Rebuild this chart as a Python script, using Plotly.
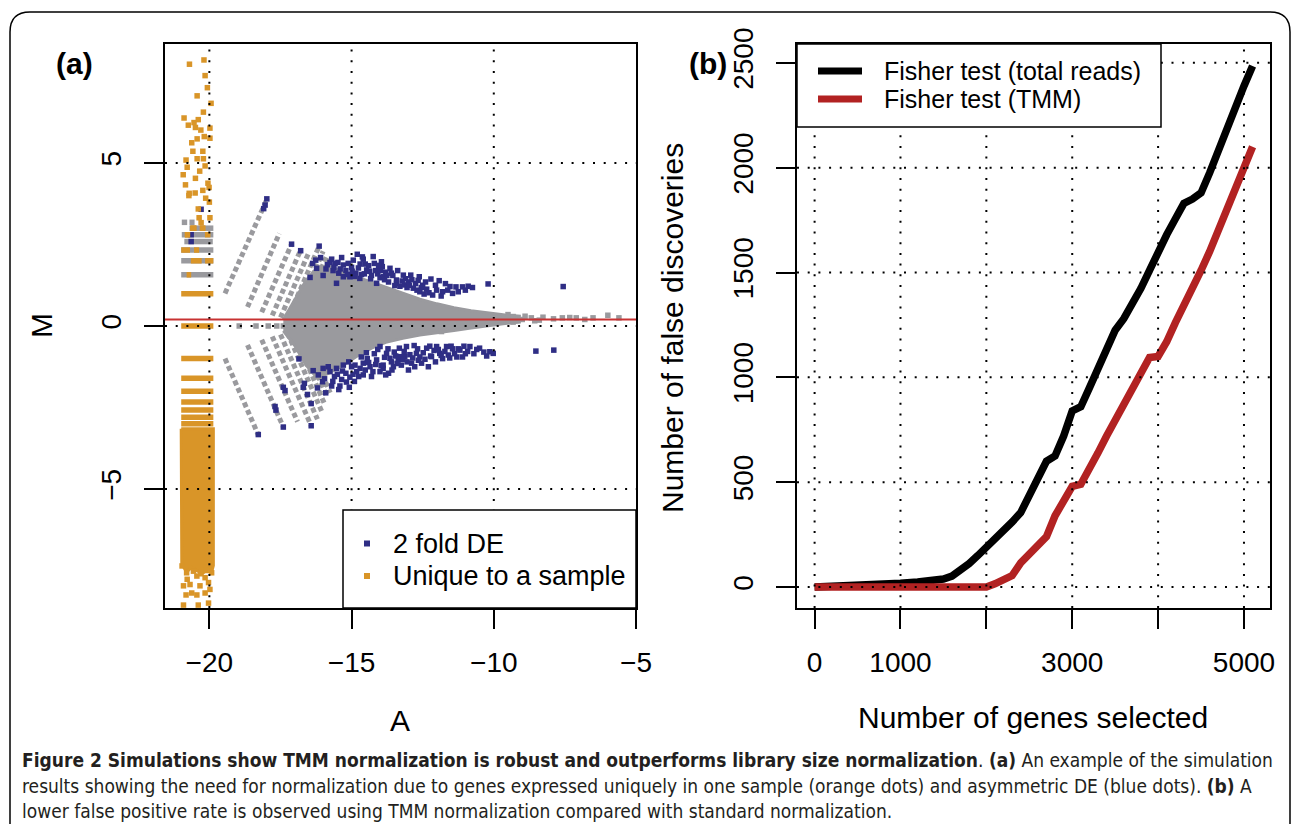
import plotly.graph_objects as go

W, H = 1293, 824

# ---------------- Panel (a): MA plot data ----------------
# gray stripes (discrete-count lines) in the upper fan: start/end (A, M)
up_stripe_A0 = [-19.45, -18.66, -18.16, -17.79, -17.50, -17.25, -17.05, -16.86, -16.70, -16.55]
up_stripe_M0 = [1.00, 0.58, 0.42, 0.32, 0.26, 0.22, 0.19, 0.17, 0.15, 0.14]
up_stripe_A1 = [-17.96, -17.54, -17.11, -16.79, -16.49, -16.14, -16.00, -15.85, -15.75, -15.70]
up_stripe_M1 = [3.92, 2.84, 2.51, 2.33, 2.28, 2.45, 2.29, 2.19, 2.05, 1.84]
# gray stripes in the lower fan
lo_stripe_A0 = [-19.45, -18.66, -18.16, -17.79, -17.50, -17.25, -17.05, -16.86, -16.70]
lo_stripe_M0 = [-1.00, -0.58, -0.42, -0.32, -0.26, -0.22, -0.19, -0.17, -0.15]
lo_stripe_A1 = [-18.28, -17.40, -16.90, -16.42, -16.20, -16.05, -15.95, -15.85, -15.75]
lo_stripe_M1 = [-3.34, -3.10, -2.94, -3.06, -2.86, -2.62, -2.39, -2.19, -2.05]

# dense gray core outline (A, M)
core_A = [-17.4, -17.0, -16.6, -16.2, -15.8, -15.3, -14.8, -14.3, -13.8, -13.2, -12.6, -12.0,
          -11.4, -10.8, -10.2, -9.6, -9.1, -9.1, -9.6, -10.2, -10.8, -11.4, -12.0, -12.6,
          -13.2, -13.8, -14.3, -14.8, -15.3, -15.8, -16.2, -16.6, -17.0, -17.4]
core_M = [0.20, 0.80, 1.40, 1.80, 1.85, 1.65, 1.50, 1.35, 1.20, 1.00, 0.82, 0.68,
          0.56, 0.47, 0.40, 0.34, 0.30, 0.12, 0.08, 0.02, -0.06, -0.14, -0.20, -0.28,
          -0.38, -0.50, -0.68, -0.92, -1.20, -1.45, -1.60, -1.20, -0.60, -0.15]

# sparse gray points
gray_A = [-18.95, -18.36, -17.93, -17.63, -17.40, -9.32, -8.68, -8.27, -7.59, -7.33, -7.10,
          -6.80, -6.51, -5.99, -5.60, -8.56, -9.32, -9.00, -8.90, -8.40, -7.90, -9.50, -11.84]
gray_M = [0.00, 0.00, 0.00, 0.00, 0.00, 0.29, 0.25, 0.27, 0.25, 0.26, 0.25,
          0.20, 0.25, 0.33, 0.25, 0.16, 0.12, 0.20, 0.30, 0.18, 0.22, 0.35, -0.17]

# gray runs at the low-A edge (M, A from, A to)
gray_bar_M = [3.18, 3.18, 3.00, 2.80, 2.59, 2.33, 2.00, 1.57]
gray_bar_A0 = [-20.97, -20.70, -20.70, -20.97, -20.88, -20.99, -20.99, -20.99]
gray_bar_A1 = [-20.78, -20.52, -19.86, -19.86, -19.88, -19.86, -19.86, -19.86]

# orange runs (genes unique to a sample)
orange_bar_M = [3.00, 3.00, 2.80, 2.33, 2.33, 2.00, 2.00, 1.57,
                0.99, 0.00, -1.00, -1.60, -2.00, -2.33, -2.58, -2.80, -3.00]
orange_bar_A0 = [-20.68, -20.34, -20.86, -20.99, -20.54, -20.65, -20.15, -20.80,
                 -20.99, -20.99, -20.99, -20.99, -20.99, -20.99, -20.99, -20.99, -20.99]
orange_bar_A1 = [-20.45, -20.17, -20.70, -20.68, -20.36, -20.27, -19.86, -20.64,
                 -19.86, -19.86, -19.86, -19.86, -19.86, -19.86, -19.86, -19.86, -19.86]

# dense orange column outline
orange_col_A = [-20.99, -19.86, -19.86, -19.92, -20.05, -20.25, -20.45, -20.62, -20.80, -20.97, -20.99]
orange_col_M = [-3.15, -3.15, -7.35, -7.55, -7.45, -7.60, -7.50, -7.40, -7.55, -7.30, -3.15]

orange_A = [-20.70, -20.19, -20.15, -20.07, -20.43, -19.94, -20.21, -20.89, -20.39, -20.54,
            -20.74, -20.49, -20.30, -19.98, -20.18, -19.98, -20.43, -20.62, -20.58, -20.23,
            -20.82, -20.43, -20.21, -20.78, -20.15, -20.34, -20.92, -20.49, -20.05, -20.84,
            -20.01, -20.23, -20.71, -20.50, -20.72, -20.13, -20.00, -20.39, -19.98, -20.36,
            -20.29, -20.56, -20.23, -20.77, -20.06,
            -20.91, -20.39, -20.03, -20.82, -20.62, -20.44, -20.15, -19.98, -20.91, -20.68,
            -20.33, -20.03, -20.78, -20.44, -20.15, -20.80, -20.56, -19.92, -20.96, -20.30, -20.10]
orange_M = [8.03, 8.16, 7.68, 7.31, 7.06, 6.83, 6.56, 6.38, 6.33, 6.24,
            6.16, 6.09, 6.01, 6.07, 5.81, 5.76, 5.74, 5.62, 5.36, 5.36,
            5.09, 5.13, 5.13, 4.87, 4.91, 4.75, 4.64, 4.53, 4.38, 4.33,
            4.25, 4.16, 4.07, 4.08, 4.00, 3.92, 3.80, 3.59, 3.32, 3.32,
            3.17, 3.00, 3.00, 2.80, 2.80,
            -8.56, -8.56, -8.50, -8.25, -8.19, -8.25, -8.19, -8.08, -7.97, -7.93,
            -7.97, -7.87, -7.77, -7.67, -7.72, -7.57, -7.52, -7.57, -7.36, -7.60, -7.50]

# 2 fold DE genes (blue), up-regulated group
blue_up_A = [-17.98, -18.04, -18.09, -17.11, -16.79, -16.14, -16.09, -16.37, -16.26, -16.46, -16.23, -16.00,
             -15.90, -15.76, -15.70, -15.65, -15.58, -15.53, -15.45, -15.35, -15.29, -15.29, -15.20, -15.06,
             -15.00, -14.94, -14.85, -14.80, -14.71, -14.70, -14.59, -14.55, -14.47, -14.40, -14.30, -14.24,
             -14.15, -14.12, -14.00, -13.95, -13.92, -13.89, -13.80, -13.70, -13.65, -13.55, -13.42, -13.42,
             -13.30, -13.18, -13.13, -13.00, -12.92, -12.83, -12.75, -12.62, -12.60, -12.50, -12.45, -12.36,
             -12.21, -12.15, -12.01, -11.92, -11.80, -11.54, -11.33, -11.10, -10.75, -10.20, -7.56,
             -20.64, -20.64, -20.29,
             -15.85, -15.62, -15.48, -15.40, -15.15, -15.12, -14.98, -14.90, -14.76, -14.65, -14.62, -14.52,
             -14.36, -14.33, -14.20, -14.08, -14.05, -13.98, -13.84, -13.76, -13.60, -13.48, -13.38, -13.22,
             -13.10, -13.05, -12.97, -12.88, -12.70, -12.66, -12.55, -12.40, -12.28, -12.05, -11.85, -11.70,
             -11.62, -11.45, -11.25, -11.00, -10.90]
blue_up_M = [3.90, 3.71, 3.60, 2.51, 2.31, 2.45, 2.10, 1.92, 2.02, 1.49, 1.77, 1.55,
             1.75, 1.95, 2.05, 1.70, 1.92, 1.31, 1.62, 2.10, 1.87, 1.51, 1.70, 1.51,
             1.80, 2.02, 1.62, 2.20, 1.46, 1.90, 2.05, 1.60, 1.72, 1.85, 1.55, 2.13,
             1.70, 1.31, 1.48, 1.97, 1.82, 1.51, 1.65, 1.35, 1.77, 1.55, 1.31, 1.41,
             1.22, 1.56, 1.26, 1.35, 1.56, 1.16, 1.30, 1.51, 1.05, 1.25, 0.98, 1.13,
             1.44, 0.95, 1.10, 1.39, 1.05, 1.21, 1.20, 1.20, 1.18, 1.29, 1.21,
             2.80, 2.59, 3.58,
             1.88, 1.80, 1.95, 1.75, 1.58, 1.92, 1.68, 1.52, 1.78, 1.58, 2.12, 1.90,
             1.68, 1.45, 1.92, 1.60, 1.86, 1.70, 1.42, 1.55, 1.62, 1.24, 1.70, 1.38,
             1.45, 1.18, 1.25, 1.42, 1.10, 1.40, 1.18, 1.35, 1.02, 1.25, 0.92, 1.30,
             1.10, 1.00, 1.05, 1.10, 1.22]

# 2 fold DE genes (blue), down-regulated group
blue_lo_A = [-18.28, -17.40, -16.42, -16.42, -17.66, -17.69, -17.40, -17.34, -16.70, -16.66, -16.85, -16.55,
             -16.20, -16.17, -16.35, -16.02, -16.00, -15.91, -15.76, -15.70, -15.60, -15.53, -15.41, -15.35,
             -15.29, -15.20, -15.08, -15.06, -15.00, -14.90, -14.82, -14.70, -14.59, -14.59, -14.45, -14.35,
             -14.30, -14.20, -14.12, -14.00, -14.00, -13.89, -13.89, -13.77, -13.70, -13.65, -13.53, -13.50,
             -13.36, -13.30, -13.25, -13.13, -13.07, -13.00, -12.89, -12.80, -12.72, -12.60, -12.54, -12.36,
             -12.30, -12.19, -12.10, -12.01, -11.90, -11.80, -11.66, -11.60, -11.45, -11.30, -11.19, -11.00,
             -10.84, -10.60, -10.14, -10.02, -8.52, -7.89,
             -15.95, -15.82, -15.66, -15.50, -15.45, -15.32, -15.18, -15.10, -14.95, -14.88, -14.75, -14.66,
             -14.52, -14.48, -14.40, -14.25, -14.15, -14.08, -13.96, -13.84, -13.80, -13.72, -13.60, -13.58,
             -13.45, -13.40, -13.32, -13.20, -13.15, -13.05, -12.95, -12.85, -12.78, -12.68, -12.65, -12.48,
             -12.42, -12.25, -12.22, -12.05, -11.95, -11.85, -11.72, -11.55, -11.50, -11.38, -11.25, -11.10,
             -11.05, -10.92, -10.70, -10.50, -10.35, -10.25]
blue_lo_M = [-3.33, -3.10, -3.06, -2.38, -2.58, -2.47, -1.88, -1.98, -1.88, -1.76, -1.01, -2.10,
             -1.90, -1.50, -1.37, -1.71, -1.30, -2.05, -1.40, -1.84, -1.55, -1.30, -1.84, -1.64,
             -1.20, -1.45, -1.88, -1.57, -1.25, -1.70, -1.40, -1.30, -1.50, -1.14, -1.00, -1.25,
             -1.55, -0.85, -1.04, -1.40, -0.63, -1.20, -1.30, -0.84, -1.45, -0.99, -1.25, -0.80,
             -1.04, -0.94, -1.20, -0.94, -0.63, -1.35, -1.14, -0.60, -0.84, -0.95, -1.14, -0.68,
             -1.25, -0.94, -0.75, -0.63, -0.84, -1.00, -0.63, -0.89, -0.70, -0.95, -0.74, -0.85,
             -0.63, -0.72, -0.79, -0.84, -0.77, -0.74,
             -1.62, -1.25, -1.70, -1.48, -1.95, -1.38, -1.72, -1.10, -1.48, -1.20, -1.55, -0.95,
             -1.35, -0.82, -1.12, -1.40, -1.18, -0.72, -1.22, -0.96, -1.50, -0.70, -1.10, -1.35,
             -0.92, -1.15, -0.68, -1.02, -0.78, -1.10, -0.88, -0.98, -1.25, -0.70, -1.05, -0.82,
             -1.02, -0.62, -0.92, -1.10, -0.72, -0.90, -0.78, -0.98, -0.62, -0.85, -0.70, -0.95,
             -0.62, -0.78, -0.85, -0.68, -0.80, -0.92]

norm_offset_M = 0.2  # red reference line

a_xticks = [-20, -15, -10, -5]
a_yticks = [-5, 0, 5]

# ---------------- Panel (b): false discoveries ----------------
genes_selected = [0, 200, 500, 800, 1000, 1200, 1400, 1500, 1600, 1700, 1800, 1900, 2000, 2100,
                  2200, 2300, 2400, 2500, 2600, 2700, 2800, 2900, 3000, 3100, 3200, 3300, 3400,
                  3500, 3600, 3700, 3800, 3900, 4000, 4100, 4200, 4300, 4400, 4500, 4600, 4700,
                  4800, 4900, 5000, 5100]
fd_total_reads = [0, 2, 6, 12, 18, 24, 32, 38, 52, 78, 112, 150, 188, 228,
                  268, 310, 355, 440, 525, 600, 625, 720, 840, 860, 950, 1045, 1140,
                  1225, 1280, 1350, 1425, 1510, 1600, 1680, 1755, 1830, 1850, 1880, 1975, 2085,
                  2190, 2290, 2390, 2485]
fd_tmm = [0, 0, 0, 0, 0, 0, 0, 0, 0, 0, 0, 0, 0, 15,
          35, 55, 115, 160, 205, 240, 340, 410, 480, 490, 560, 640, 720,
          795, 870, 945, 1020, 1095, 1100, 1170, 1260, 1340, 1420, 1510, 1600, 1700,
          1800, 1900, 2000, 2100]
b_xticks = [0, 1000, 2000, 3000, 4000, 5000]
b_xticklabels = ["0", "1000", "", "3000", "", "5000"]
b_yticks = [0, 500, 1000, 1500, 2000, 2500]

# ---------------- styling ----------------
GRAY = "#9a9a9e"
BLUE = "#2f2e85"
ORANGE = "#d99528"
FONT = "Liberation Sans, Arial, Helvetica, sans-serif"


def px(x):
    return x / W


def py(y):
    return 1 - y / H


def segs(a0, m0, a1, m1):
    xs, ys = [], []
    for p, q, r, s in zip(a0, m0, a1, m1):
        xs += [p, r, None]
        ys += [q, s, None]
    return xs, ys


def hsegs(m, a0, a1):
    return segs(a0, m, a1, m)


fig = go.Figure()

sx, sy = segs(up_stripe_A0 + lo_stripe_A0, up_stripe_M0 + lo_stripe_M0,
              up_stripe_A1 + lo_stripe_A1, up_stripe_M1 + lo_stripe_M1)
fig.add_trace(go.Scatter(x=sx, y=sy, mode="lines", xaxis="x", yaxis="y",
                         line=dict(color=GRAY, width=5, dash="5px,3px"), hoverinfo="skip"))
fig.add_trace(go.Scatter(x=core_A, y=core_M, mode="lines", fill="toself", fillcolor=GRAY,
                         line=dict(color=GRAY, width=3), xaxis="x", yaxis="y"))
fig.add_trace(go.Scatter(x=gray_A, y=gray_M, mode="markers", xaxis="x", yaxis="y",
                         marker=dict(symbol="square", size=5.5, color=GRAY)))
gx, gy = hsegs(gray_bar_M, gray_bar_A0, gray_bar_A1)
fig.add_trace(go.Scatter(x=gx, y=gy, mode="lines", xaxis="x", yaxis="y",
                         line=dict(color=GRAY, width=5.5)))
fig.add_trace(go.Scatter(x=blue_up_A + blue_lo_A, y=blue_up_M + blue_lo_M, mode="markers",
                         xaxis="x", yaxis="y", marker=dict(symbol="square", size=5.5, color=BLUE)))
ox, oy = hsegs(orange_bar_M, orange_bar_A0, orange_bar_A1)
fig.add_trace(go.Scatter(x=ox, y=oy, mode="lines", xaxis="x", yaxis="y",
                         line=dict(color=ORANGE, width=5.5)))
fig.add_trace(go.Scatter(x=orange_col_A, y=orange_col_M, mode="lines", fill="toself",
                         fillcolor=ORANGE, line=dict(color=ORANGE, width=3), xaxis="x", yaxis="y"))
fig.add_trace(go.Scatter(x=orange_A, y=orange_M, mode="markers", xaxis="x", yaxis="y",
                         marker=dict(symbol="square", size=5.5, color=ORANGE)))

fig.add_trace(go.Scatter(x=genes_selected, y=fd_total_reads, mode="lines", xaxis="x2", yaxis="y2",
                         line=dict(color="black", width=7.5)))
fig.add_trace(go.Scatter(x=genes_selected, y=fd_tmm, mode="lines", xaxis="x2", yaxis="y2",
                         line=dict(color="#b22222", width=7.5)))

axis_common = dict(showline=True, linecolor="black", linewidth=1.5, mirror=True,
                   ticks="outside", ticklen=19, tickwidth=1.5, tickcolor="black", automargin=False,
                   showgrid=False, zeroline=False, tickfont=dict(family=FONT, size=28, color="black"))

fig.update_layout(
    width=W, height=H, margin=dict(l=0, r=0, t=0, b=0, autoexpand=False),
    paper_bgcolor="white", plot_bgcolor="white", showlegend=False,
    xaxis=dict(domain=[px(165), px(636)], range=[-21.56, -5.0], anchor="y",
               tickvals=a_xticks, ticklabelstandoff=10, **axis_common),
    yaxis=dict(domain=[py(608), py(44)], range=[-8.65, 8.65], anchor="x",
               tickvals=a_yticks, tickangle=-90, ticklabelstandoff=12, **axis_common),
    xaxis2=dict(domain=[px(797), px(1270)], range=[-205, 5303], anchor="y2",
                tickvals=b_xticks, ticktext=b_xticklabels, ticklabelstandoff=10, **axis_common),
    yaxis2=dict(domain=[py(608), py(44)], range=[-100, 2590], anchor="x2",
                tickvals=b_yticks, tickangle=-90, ticklabelstandoff=12, **axis_common),
)

DOT = "2px,8.7px"
shapes = []
for v in [-20, -15, -10]:
    shapes.append(dict(type="line", xref="x", yref="y domain", x0=v, x1=v, y0=0, y1=1,
                       line=dict(color="black", width=2, dash=DOT), layer="above"))
for v in a_yticks:
    shapes.append(dict(type="line", xref="x domain", yref="y", x0=0, x1=1, y0=v, y1=v,
                       line=dict(color="black", width=2, dash=DOT), layer="above"))
for v in b_xticks:
    shapes.append(dict(type="line", xref="x2", yref="y2 domain", x0=v, x1=v, y0=0, y1=1,
                       line=dict(color="black", width=2, dash=DOT), layer="above"))
for v in b_yticks:
    shapes.append(dict(type="line", xref="x2 domain", yref="y2", x0=0, x1=1, y0=v, y1=v,
                       line=dict(color="black", width=2, dash=DOT), layer="above"))
# red normalisation line
shapes.append(dict(type="line", xref="x domain", yref="y", x0=0, x1=1, y0=norm_offset_M,
                   y1=norm_offset_M, line=dict(color="#c83232", width=2), layer="above"))
# legend (a)
shapes.append(dict(type="rect", xref="paper", yref="paper", x0=px(343), x1=px(636), y0=py(608),
                   y1=py(510), fillcolor="white", line=dict(color="black", width=1.5), layer="above"))
for yy, col in [(543.5, BLUE), (576, ORANGE)]:
    shapes.append(dict(type="rect", xref="paper", yref="paper", x0=px(364), x1=px(370),
                       y0=py(yy + 3), y1=py(yy - 3), fillcolor=col, line=dict(width=0), layer="above"))
# legend (b)
shapes.append(dict(type="rect", xref="paper", yref="paper", x0=px(797), x1=px(1161), y0=py(127),
                   y1=py(44), fillcolor="white", line=dict(color="black", width=1.5), layer="above"))
for yy, col in [(71, "black"), (99, "#b22222")]:
    shapes.append(dict(type="line", xref="paper", yref="paper", x0=px(818), x1=px(862),
                       y0=py(yy), y1=py(yy), line=dict(color=col, width=7), layer="above"))
# rounded outer frame
r = 20
frame = (f"M {px(10)},{py(830)} L {px(10)},{py(12 + r)} Q {px(10)},{py(12)} {px(10 + r)},{py(12)} "
         f"L {px(1290 - r)},{py(12)} Q {px(1290)},{py(12)} {px(1290)},{py(12 + r)} L {px(1290)},{py(830)}")
shapes.append(dict(type="path", xref="paper", yref="paper", path=frame,
                   line=dict(color="black", width=1.5), layer="above"))
fig.update_layout(shapes=shapes)


def ann(text, x, y, size, xanchor="center", angle=0, bold=False, family=FONT, color="black"):
    return dict(text=f"<b>{text}</b>" if bold else text, x=px(x), y=py(y), xref="paper",
                yref="paper", showarrow=False, xanchor=xanchor, yanchor="middle",
                textangle=angle, font=dict(family=family, size=size, color=color))


CAP = "Liberation Sans Narrow, DejaVu Sans Condensed, Arial Narrow, Liberation Sans, sans-serif"
annotations = [
    ann("(a)", 74, 63, 30, bold=True),
    ann("(b)", 708, 63, 30, bold=True),
    ann("M", 42, 326, 30, angle=-90),
    ann("A", 400, 720, 30),
    ann("Number of false discoveries", 672, 328, 30, angle=-90),
    ann("Number of genes selected", 1033, 717, 30),
    ann("2 fold DE", 391, 543.5, 27, xanchor="left"),
    ann("Unique to a sample", 391, 576, 27, xanchor="left"),
    ann("Fisher test (total reads)", 882, 71, 25, xanchor="left"),
    ann("Fisher test (TMM)", 882, 99, 25, xanchor="left"),
    ann("<b>Figure 2 Simulations show TMM normalization is robust and outperforms library size "
        "normalization</b>. <b>(a)</b> An example of the simulation", 20, 760, 19, xanchor="left",
        family=CAP, color="#231f20"),
    ann("results showing the need for normalization due to genes expressed uniquely in one sample "
        "(orange dots) and asymmetric DE (blue dots). <b>(b)</b> A", 20, 786, 19, xanchor="left",
        family=CAP, color="#231f20"),
    ann("lower false positive rate is observed using TMM normalization compared with standard "
        "normalization.", 20, 811, 19, xanchor="left", family=CAP, color="#231f20"),
]
fig.update_layout(annotations=annotations)

fig.write_html("out.html", config={"displayModeBar": False},
               post_script="document.body.style.margin='0';document.body.style.overflow='hidden';")
